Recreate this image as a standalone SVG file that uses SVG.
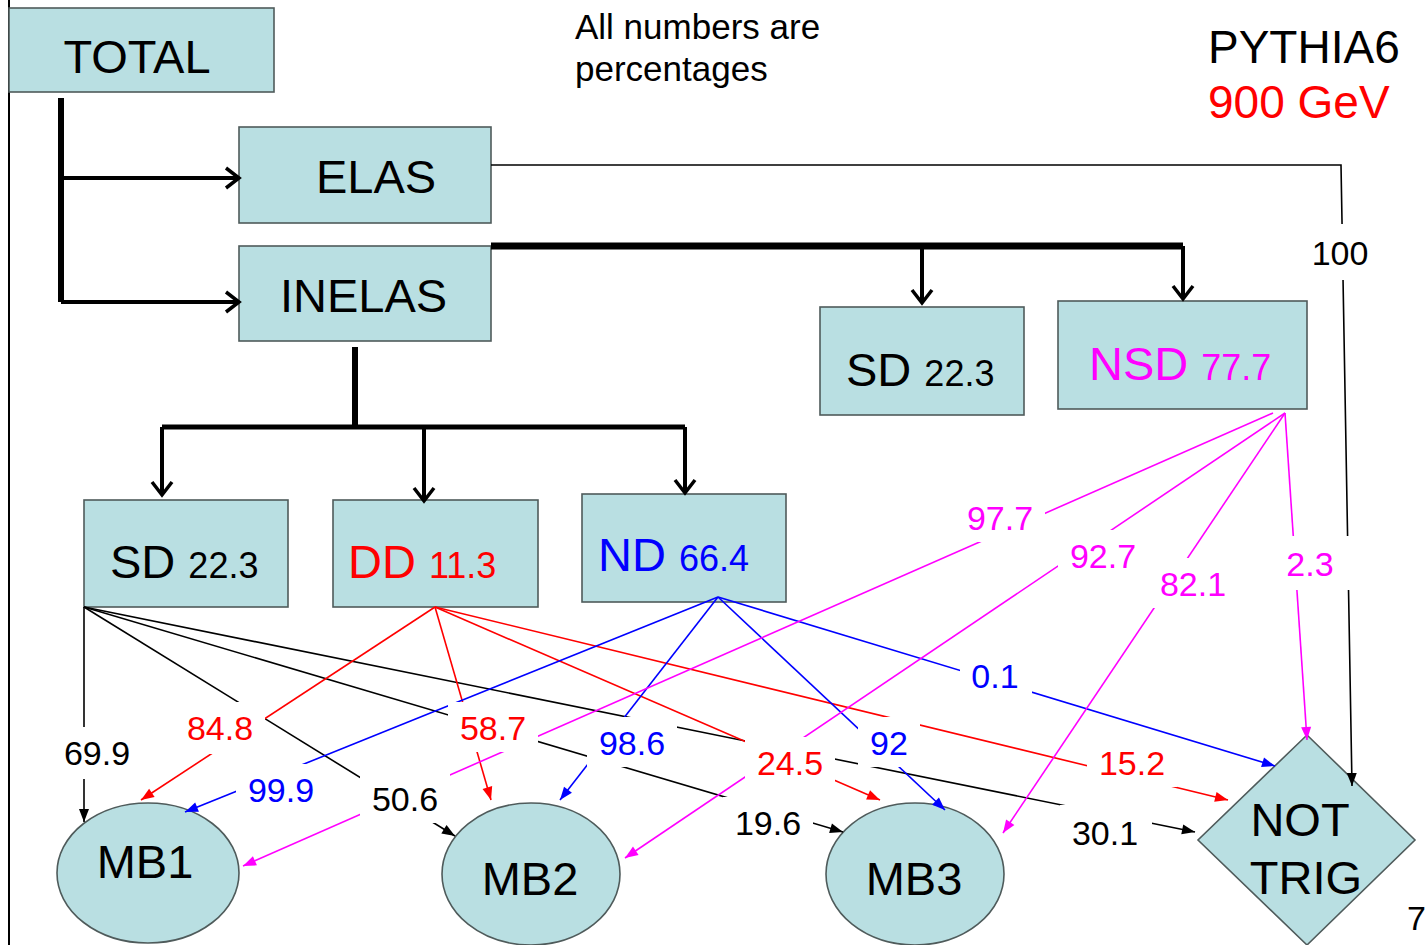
<svg xmlns="http://www.w3.org/2000/svg" width="1428" height="945" viewBox="0 0 1428 945">
<style>
text{font-family:"Liberation Sans",Arial,Helvetica,sans-serif}
.box{fill:#b9dfe2;stroke:#4f5b5b;stroke-width:1.6}
.big{font-size:47px}
.num{font-size:36px}
.lbl{font-size:34px;text-anchor:middle}
.bg{fill:#fff;stroke:none}
.thick{fill:none;stroke:#000}
.thin{fill:none;stroke-width:1.6}
.k{stroke:#000}.r{stroke:#f00}.b{stroke:#00f}.m{stroke:#f0f}
</style>
<defs>
<marker id="th" markerUnits="userSpaceOnUse" markerWidth="20" markerHeight="24" viewBox="-16 -12 20 24" refX="0" refY="0" orient="auto" overflow="visible"><path d="M-13,-10 L0,0 L-13,10" fill="none" stroke="#000" stroke-width="3.5"/></marker>
<marker id="ak" markerUnits="userSpaceOnUse" markerWidth="14" markerHeight="12" viewBox="-14 -6 14 12" refX="0" refY="0" orient="auto" overflow="visible"><path d="M-13,-5 L0,0 L-13,5 z" fill="#000"/></marker>
<marker id="ar" markerUnits="userSpaceOnUse" markerWidth="14" markerHeight="12" viewBox="-14 -6 14 12" refX="0" refY="0" orient="auto" overflow="visible"><path d="M-13,-5 L0,0 L-13,5 z" fill="#f00"/></marker>
<marker id="ab" markerUnits="userSpaceOnUse" markerWidth="14" markerHeight="12" viewBox="-14 -6 14 12" refX="0" refY="0" orient="auto" overflow="visible"><path d="M-13,-5 L0,0 L-13,5 z" fill="#00f"/></marker>
<marker id="am" markerUnits="userSpaceOnUse" markerWidth="14" markerHeight="12" viewBox="-14 -6 14 12" refX="0" refY="0" orient="auto" overflow="visible"><path d="M-13,-5 L0,0 L-13,5 z" fill="#f0f"/></marker>
</defs>
<rect x="0" y="0" width="1428" height="945" fill="#fff"/>
<line x1="9" y1="0" x2="9" y2="945" stroke="#000" stroke-width="2"/>

<g id="total"><rect class="box" x="9" y="8" width="265" height="84"/><text class="big" x="137" y="73" text-anchor="middle">TOTAL</text></g>
<g id="elas"><rect class="box" x="239" y="127" width="252" height="96"/><text class="big" x="316" y="193">ELAS</text></g>
<g id="inelas"><rect class="box" x="239" y="246" width="252" height="95"/><text class="big" x="280" y="312">INELAS</text></g>
<g id="sd-top"><rect class="box" x="820" y="307" width="204" height="108"/><text class="big" x="846" y="386">SD <tspan class="num">22.3</tspan></text></g>
<g id="nsd"><rect class="box" x="1058" y="301" width="249" height="108"/><text class="big" x="1089" y="380" fill="#f0f">NSD <tspan class="num">77.7</tspan></text></g>
<g id="sd"><rect class="box" x="84" y="500" width="204" height="107"/><text class="big" x="110" y="578">SD <tspan class="num">22.3</tspan></text></g>
<g id="dd"><rect class="box" x="333" y="500" width="205" height="107"/><text class="big" x="348" y="578" fill="#f00">DD <tspan class="num">11.3</tspan></text></g>
<g id="nd"><rect class="box" x="582" y="494" width="204" height="108"/><text class="big" x="598" y="571" fill="#00f">ND <tspan class="num">66.4</tspan></text></g>
<g id="mb1"><ellipse class="box" cx="148" cy="873" rx="91" ry="70"/><text class="big" x="145" y="878" text-anchor="middle">MB1</text></g>
<g id="mb2"><ellipse class="box" cx="531" cy="874" rx="89" ry="71"/><text class="big" x="530" y="895" text-anchor="middle">MB2</text></g>
<g id="mb3"><ellipse class="box" cx="915" cy="874" rx="89" ry="71"/><text class="big" x="914" y="895" text-anchor="middle">MB3</text></g>
<g id="nottrig"><polygon class="box" points="1307,735 1415,840 1307,945 1198,840"/><text class="big" x="1300" y="836" text-anchor="middle">NOT</text><text class="big" x="1306" y="894" text-anchor="middle">TRIG</text></g>

<g id="connectors">
  <path class="thick" stroke-width="6" d="M61,98 V302"/>
  <path class="thick" stroke-width="4" d="M61,178 H239" marker-end="url(#th)"/>
  <path class="thick" stroke-width="4" d="M61,302 H239" marker-end="url(#th)"/>
  <path class="thick" stroke-width="7" d="M491,246 H1183"/>
  <path class="thick" stroke-width="4" d="M922,246 V303" marker-end="url(#th)"/>
  <path class="thick" stroke-width="4" d="M1183,246 V299" marker-end="url(#th)"/>
  <path class="thick" stroke-width="6" d="M355,347 V427"/>
  <path class="thick" stroke-width="5" d="M162,427 H685"/>
  <path class="thick" stroke-width="4" d="M162,427 V495" marker-end="url(#th)"/>
  <path class="thick" stroke-width="4" d="M424,427 V501" marker-end="url(#th)"/>
  <path class="thick" stroke-width="4" d="M685,427 V493" marker-end="url(#th)"/>
  <path class="thin k" d="M491,165 H1341 L1352,786" marker-end="url(#ak)"/>

  <path class="thin k" d="M84,607 V822" marker-end="url(#ak)"/>
  <path class="thin k" d="M84,607 L455,836" marker-end="url(#ak)"/>
  <path class="thin k" d="M84,607 L843,832" marker-end="url(#ak)"/>
  <path class="thin k" d="M84,607 L1195,832" marker-end="url(#ak)"/>

  <path class="thin r" d="M435,607 L141,800" marker-end="url(#ar)"/>
  <path class="thin r" d="M435,607 L491,800" marker-end="url(#ar)"/>
  <path class="thin r" d="M435,607 L880,800" marker-end="url(#ar)"/>
  <path class="thin r" d="M435,607 L1228,800" marker-end="url(#ar)"/>

  <path class="thin b" d="M718,597 L185,812" marker-end="url(#ab)"/>
  <path class="thin b" d="M718,597 L560,800" marker-end="url(#ab)"/>
  <path class="thin b" d="M718,597 L945,810" marker-end="url(#ab)"/>
  <path class="thin b" d="M718,597 L1275,766" marker-end="url(#ab)"/>

  <path class="thin m" d="M1273,413 L243,866" marker-end="url(#am)"/>
  <path class="thin m" d="M1285,413 L625,858" marker-end="url(#am)"/>
  <path class="thin m" d="M1285,413 L1003,833" marker-end="url(#am)"/>
  <path class="thin m" d="M1285,413 L1307,740" marker-end="url(#am)"/>

  <rect class="bg" x="1300" y="224" width="80" height="56"/>
  <rect class="bg" x="52" y="727" width="90" height="52"/>
  <rect class="bg" x="175" y="702" width="90" height="52"/>
  <rect class="bg" x="236" y="764" width="90" height="50"/>
  <rect class="bg" x="360" y="773" width="90" height="50"/>
  <rect class="bg" x="448" y="702" width="90" height="50"/>
  <rect class="bg" x="587" y="717" width="90" height="50"/>
  <rect class="bg" x="745" y="737" width="90" height="50"/>
  <rect class="bg" x="858" y="717" width="62" height="50"/>
  <rect class="bg" x="723" y="797" width="90" height="50"/>
  <rect class="bg" x="960" y="650" width="72" height="50"/>
  <rect class="bg" x="1087" y="737" width="90" height="50"/>
  <rect class="bg" x="1060" y="805" width="92" height="50"/>
  <rect class="bg" x="955" y="492" width="90" height="50"/>
  <rect class="bg" x="1058" y="530" width="90" height="50"/>
  <rect class="bg" x="1148" y="558" width="90" height="50"/>
  <rect class="bg" x="1270" y="536" width="82" height="54"/>

  <text class="lbl" x="1340" y="265" fill="#000">100</text>
  <text class="lbl" x="97" y="765" fill="#000">69.9</text>
  <text class="lbl" x="220" y="740" fill="#f00">84.8</text>
  <text class="lbl" x="281" y="802" fill="#00f">99.9</text>
  <text class="lbl" x="405" y="811" fill="#000">50.6</text>
  <text class="lbl" x="493" y="740" fill="#f00">58.7</text>
  <text class="lbl" x="632" y="755" fill="#00f">98.6</text>
  <text class="lbl" x="790" y="775" fill="#f00">24.5</text>
  <text class="lbl" x="889" y="755" fill="#00f">92</text>
  <text class="lbl" x="768" y="835" fill="#000">19.6</text>
  <text class="lbl" x="995" y="688" fill="#00f">0.1</text>
  <text class="lbl" x="1132" y="775" fill="#f00">15.2</text>
  <text class="lbl" x="1105" y="845" fill="#000">30.1</text>
  <text class="lbl" x="1000" y="530" fill="#f0f">97.7</text>
  <text class="lbl" x="1103" y="568" fill="#f0f">92.7</text>
  <text class="lbl" x="1193" y="596" fill="#f0f">82.1</text>
  <text class="lbl" x="1310" y="576" fill="#f0f">2.3</text>
</g>

<g id="notes">
  <text x="575" y="39" font-size="35">All numbers are</text>
  <text x="575" y="81" font-size="35">percentages</text>
  <text x="1208" y="63" font-size="46">PYTHIA6</text>
  <text x="1208" y="118" font-size="46" fill="#f00">900 GeV</text>
  <text x="1407" y="930" font-size="34">7</text>
</g>
</svg>
